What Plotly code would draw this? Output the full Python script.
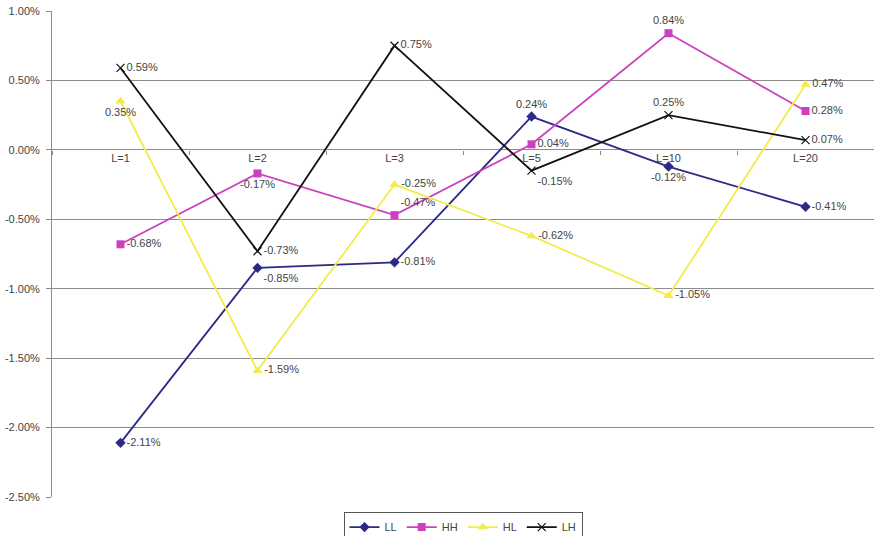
import plotly.graph_objects as go

categories = ["L=1", "L=2", "L=3", "L=5", "L=10", "L=20"]
LL = [-2.11, -0.85, -0.81, 0.24, -0.12, -0.41]
HH = [-0.68, -0.17, -0.47, 0.04, 0.84, 0.28]
HL = [0.35, -1.59, -0.25, -0.62, -1.05, 0.47]
LH = [0.59, -0.73, 0.75, -0.15, 0.25, 0.07]
y_ticks = [-2.5, -2.0, -1.5, -1.0, -0.5, 0.0, 0.5, 1.0]

series = [
    ("LL", LL, "#2b2a86", "diamond", 8,
     ["middle right", "bottom right", "middle right", "top center", "bottom center", "middle right"]),
    ("HH", HH, "#cc3fbf", "square", 8,
     ["middle right", "bottom center", "top right", "middle right", "top center", "middle right"]),
    ("HL", HL, "#f2ec4a", "triangle-up", 9,
     ["bottom center", "middle right", "middle right", "middle right", "middle right", "middle right"]),
    ("LH", LH, "#111111", "x-thin", 8,
     ["middle right", "middle right", "middle right", "bottom right", "top center", "middle right"]),
]

fig = go.Figure()
for name, vals, color, sym, size, pos in series:
    fig.add_trace(go.Scatter(
        x=categories, y=vals, name=name, mode="lines+markers+text",
        line=dict(color=color, width=1.8),
        marker=dict(symbol=sym, size=size, color=color,
                    line=dict(color=color, width=1.2 if sym == "x-thin" else 0)),
        text=[f"{v:.2f}%" for v in vals],
        textposition=pos,
        textfont=dict(family="Liberation Sans, Arial", size=11, color="#444444"),
        cliponaxis=False,
    ))

fig.update_layout(
    width=874, height=536,
    margin=dict(l=52, r=0, t=11, b=39, autoexpand=False),
    plot_bgcolor="white", paper_bgcolor="white",
    font=dict(family="Liberation Sans, Arial", size=11, color="#444444"),
    showlegend=True,
    legend=dict(orientation="h", x=0.5, xanchor="center", y=-0.03, yanchor="top",
                bordercolor="#555555", borderwidth=1,
                font=dict(size=11, color="#444444"),
                itemwidth=30, tracegroupgap=0),
    xaxis=dict(type="category", range=[-0.5, 5.5], anchor="free",
               position=(0 - (-2.5)) / 3.5, showgrid=False, showline=False,
               ticks="outside", ticklen=4, tickcolor="#888888", tickson="boundaries",
               tickfont=dict(size=11, color="#444444"), zeroline=False,
               automargin=False),
    yaxis=dict(range=[-2.5, 1.0], tickvals=y_ticks,
               ticktext=[f"{v:.2f}%" for v in y_ticks],
               showgrid=True, gridcolor="#8c8c8c", gridwidth=1,
               zeroline=True, zerolinecolor="#8c8c8c", zerolinewidth=1,
               showline=True, linecolor="#8c8c8c", linewidth=1,
               ticks="outside", ticklen=5, tickcolor="#8c8c8c",
               ticklabelstandoff=4,
               tickfont=dict(size=11, color="#444444"), automargin=False),
)

fig.write_html("out.html", config={"displayModeBar": False},
               post_script="document.body.style.margin='0';document.body.style.padding='0';")
